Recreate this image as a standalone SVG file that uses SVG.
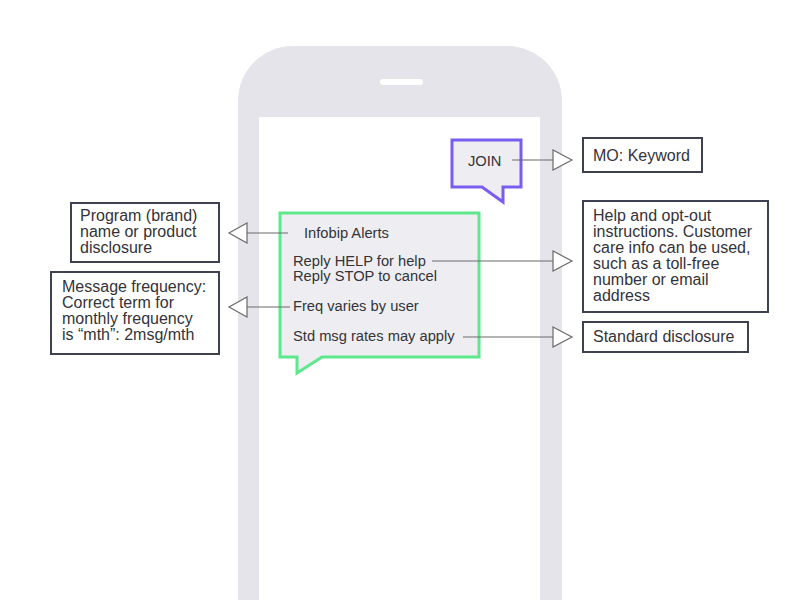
<svg xmlns="http://www.w3.org/2000/svg" width="800" height="600" viewBox="0 0 800 600">
<defs>
<style>
text{font-family:"Liberation Sans",Arial,sans-serif;font-size:16px;fill:#333339}
.b{font-size:14.7px}
.box{fill:#fff;stroke:#3e4250;stroke-width:2}
.ln{stroke:#6a6a6a;stroke-width:1.2;fill:none}
.tri{fill:#fff;stroke:#6a6a6a;stroke-width:1.2}
</style>
</defs>
<rect width="800" height="600" fill="#fff"/>
<g id="phone">
<path d="M238,600 V101 A55,55 0 0 1 293,46 H507 A55,55 0 0 1 562,101 V600 Z" fill="#e4e4ea"/>
<rect x="259" y="117" width="281" height="490" fill="#fff"/>
<rect x="380" y="79" width="43" height="6" rx="3" fill="#fff"/>
</g>
<g id="join-bubble">
<path d="M452,140 H521 V187 H503 V202 L482,187 H452 Z" fill="#eeeef2" stroke="#7b5cf0" stroke-width="3" stroke-linejoin="miter"/>
<text class="b" x="468" y="166">JOIN</text>
</g>
<g id="sms-bubble">
<path d="M280,213 H479 V357 H322 L297,373 V357 H280 Z" fill="#eeeef2" stroke="#5ee88c" stroke-width="3"/>
<text class="b" x="304" y="238">Infobip Alerts</text>
<text class="b" x="293" y="266">Reply HELP for help</text>
<text class="b" x="293" y="281">Reply STOP to cancel</text>
<text class="b" x="293" y="311">Freq varies by user</text>
<text class="b" x="293" y="341">Std msg rates may apply</text>
</g>
<g id="mo-keyword">
<rect class="box" x="583" y="138" width="119" height="34"/>
<text x="593" y="161">MO: Keyword</text>
</g>
<g id="program-name">
<rect class="box" x="71" y="203" width="148" height="59"/>
<text x="80" y="221">Program (brand)</text>
<text x="80" y="237">name or product</text>
<text x="80" y="253">disclosure</text>
</g>
<g id="message-frequency">
<rect class="box" x="51" y="272" width="168" height="82"/>
<text x="62" y="292">Message frequency:</text>
<text x="62" y="308">Correct term for</text>
<text x="62" y="324">monthly frequency</text>
<text x="62" y="340">is “mth”: 2msg/mth</text>
</g>
<g id="help-optout">
<rect class="box" x="583" y="201" width="185" height="111"/>
<text x="593" y="221">Help and opt-out</text>
<text x="593" y="237">instructions. Customer</text>
<text x="593" y="253">care info can be used,</text>
<text x="593" y="269">such as a toll-free</text>
<text x="593" y="285">number or email</text>
<text x="593" y="301">address</text>
</g>
<g id="standard-disclosure">
<rect class="box" x="583" y="322" width="165" height="30"/>
<text x="593" y="342">Standard disclosure</text>
</g>
<g id="connectors">
<line class="ln" x1="512" y1="160" x2="553" y2="160"/>
<polygon class="tri" points="553,150 572,160 553,170"/>
<line class="ln" x1="432" y1="261" x2="553" y2="261"/>
<polygon class="tri" points="553,251 572,261 553,271"/>
<line class="ln" x1="463" y1="337" x2="553" y2="337"/>
<polygon class="tri" points="553,327 572,337 553,347"/>
<line class="ln" x1="247" y1="233" x2="288" y2="233"/>
<polygon class="tri" points="247,223 229,233 247,243"/>
<line class="ln" x1="247" y1="307" x2="290" y2="307"/>
<polygon class="tri" points="247,297 229,307 247,317"/>
</g>
</svg>
